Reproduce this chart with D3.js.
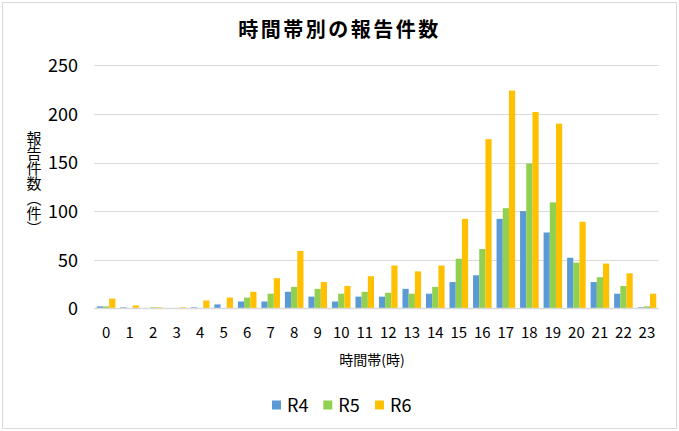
<!DOCTYPE html>
<html><head><meta charset="utf-8">
<script src="https://cdn.jsdelivr.net/npm/d3@7"></script>
<style>
html,body{margin:0;padding:0;background:#fff;}
text{font-family:"Noto Sans CJK JP","Noto Sans",sans-serif;fill:#000;}
</style></head>
<body><svg id="c" width="679" height="431"></svg>
<script>
const hours = ["0","1","2","3","4","5","6","7","8","9","10","11","12","13","14","15","16","17","18","19","20","21","22","23"];
const seriesNames = ["R4","R5","R6"];
const r4 = [2,1,0,0,1,4,7,7,17,12,7,12,12,20,15,27,34,92,100,78,52,27,15,1];
const r5 = [2,0,1,0,0,0,11,15,22,20,15,17,16,15,22,51,61,103,149,109,47,32,23,2];
const r6 = [10,3,1,1,8,11,17,31,59,27,23,33,44,38,44,92,174,224,202,190,89,46,36,15];
const yTicks = [0,50,100,150,200,250];
const colors = ["#5B9BD5","#92D050","#FFC000"];
const titleText = "時間帯別の報告件数";
const xTitle = "時間帯(時)";
const yTitle = "報告件数（件）";

const svg = d3.select("#c");
svg.append("rect").attr("x",2.5).attr("y",2.5).attr("width",674).attr("height",426)
  .attr("fill","#fff").attr("stroke","#d9d9d9").attr("stroke-width",1);

const L=94.3, R=658.7, T=65.3, B=308.3;
const x = d3.scaleBand().domain(hours).range([L,R]).paddingInner(0.21).paddingOuter(0.105);
const xs = d3.scaleBand().domain(seriesNames).range([0,x.bandwidth()]);
const y = d3.scaleLinear().domain([0,250]).range([B,T]);

// gridlines
svg.append("g").selectAll("line").data(yTicks).join("line")
  .attr("x1",L).attr("x2",R).attr("y1",d=>Math.round(y(d))+0.5).attr("y2",d=>Math.round(y(d))+0.5)
  .attr("stroke","#d9d9d9").attr("stroke-width",1);

// y axis labels
const yAxis = d3.axisLeft(y).tickValues(yTicks).tickSize(0).tickPadding(0);
const ya = svg.append("g").attr("transform","translate(78,0)").call(yAxis);
ya.select(".domain").remove();
ya.selectAll("text").attr("font-size",18).attr("font-family","'Noto Sans CJK JP'").attr("fill","#000").attr("dy","0.35em");

// bars
const data = [r4,r5,r6];
const rows = hours.map((h,i)=>({h, vals: seriesNames.map((s,j)=>({s, v:data[j][i]}))}));
const g = svg.append("g").selectAll("g").data(rows).join("g").attr("transform",d=>`translate(${x(d.h)},0)`);
g.selectAll("rect").data(d=>d.vals).join("rect")
  .attr("x",d=>xs(d.s)).attr("width",xs.bandwidth())
  .attr("y",d=>y(d.v)).attr("height",d=>B-y(d.v))
  .attr("fill",(d,i)=>colors[i]);

// baseline
svg.append("line").attr("x1",L).attr("x2",R).attr("y1",Math.round(B)+0.5).attr("y2",Math.round(B)+0.5)
  .attr("stroke","#d9d9d9").attr("stroke-width",1.5);

// x axis labels
const xAxis = d3.axisBottom(x).tickSize(0).tickPadding(0);
const xa = svg.append("g").attr("transform",`translate(0,337.5)`).call(xAxis);
xa.select(".domain").remove();
xa.selectAll("text").attr("font-size",15).attr("font-family","'Noto Sans CJK JP'").attr("fill","#000").attr("dy","0");

// title
svg.append("text").attr("x",339.5).attr("y",37).attr("text-anchor","middle")
  .attr("font-size",20).attr("font-weight","bold").attr("letter-spacing",2.5).text(titleText);

// x title
svg.append("text").attr("x",372).attr("y",365).attr("text-anchor","middle")
  .attr("font-size",14).text(xTitle);

// y title
svg.append("text").attr("x",34).attr("y",183).attr("text-anchor","middle")
  .attr("font-size",15).style("writing-mode","vertical-rl").text(yTitle);

// legend
const lx=[272,323.3,375];
const lg = svg.append("g").selectAll("g").data(seriesNames).join("g")
  .attr("transform",(d,i)=>`translate(${lx[i]},400.5)`);
lg.append("rect").attr("width",9).attr("height",9).attr("fill",(d,i)=>colors[i]);
lg.append("text").attr("x",15).attr("y",11.5).attr("font-size",18).text(d=>d);
</script></body></html>
